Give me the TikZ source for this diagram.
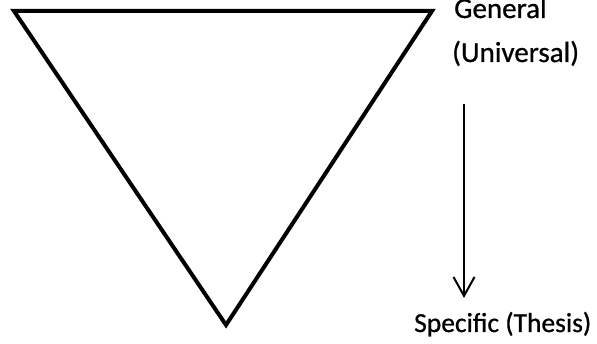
\documentclass[tikz,border=0pt]{standalone}
\usepackage{fontspec}
\setmainfont{Carlito}
\newfontfamily\lblfont[FakeBold=0.8]{Carlito}
\usetikzlibrary{arrows.meta}
\tikzset{
  lbl/.style={anchor=base west, inner sep=0pt, font=\lblfont\fontsize{29}{34}\selectfont},
  lblsmall/.style={lbl, font=\lblfont\fontsize{27.5}{33}\selectfont},
  tri/.style={line width=4pt, line join=miter},
  arr/.style={line width=2pt, -{Straight Barb[length=19pt,width=21pt,line width=2pt]}}
}
\begin{document}
\begin{tikzpicture}[x=1pt,y=-1pt]
\useasboundingbox (0,0) rectangle (597,344);
\coordinate (tl) at (14,11);
\coordinate (tr) at (432,11);
\coordinate (bt) at (226,325);
\draw[tri] (tl) -- (tr) -- (bt) -- cycle;
\node[lbl] (gen) at (454,18) {General};
\node[lbl] (uni) at (452,62) {(Universal)};
\node[lblsmall] (spec) at (414,332) {Specific (Thesis)};
\coordinate (a1) at (464,104);
\coordinate (a2) at (464,298);
\draw[arr] (a1) -- (a2);
\end{tikzpicture}
\end{document}
